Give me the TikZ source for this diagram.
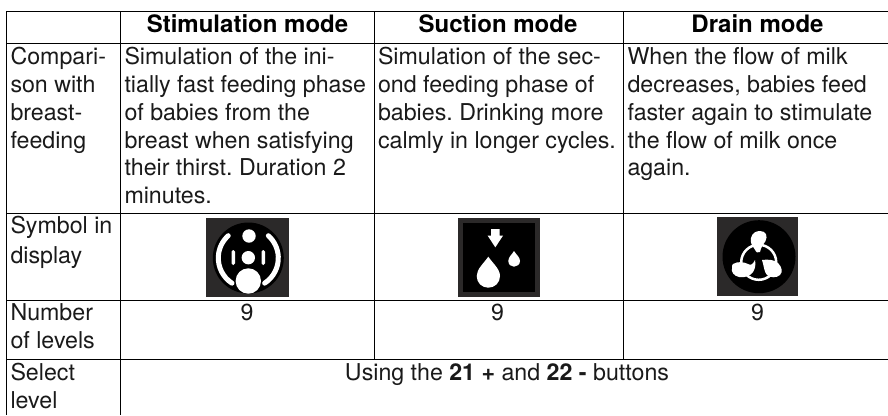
\documentclass[tikz,border=0pt]{standalone}
\usepackage{fontspec}
\setmainfont{TeX Gyre Heros}
\frenchspacing
\definecolor{txt}{HTML}{1A1A1A}
\definecolor{icobg}{HTML}{2B2929}
\tikzset{
  x=1pt,y=-1pt,
  rule/.style={line width=1pt,black},
  cell/.style={anchor=base west,inner sep=0pt,outer sep=0pt,align=left,text=txt,font=\fontsize{23.2}{28}\selectfont},
  cellc/.style={anchor=base,inner sep=0pt,outer sep=0pt,align=center,text=txt,font=\fontsize{23.2}{28}\selectfont},
  head/.style={anchor=base,inner sep=0pt,outer sep=0pt,text=black,font=\fontsize{24}{28}\selectfont\bfseries},
  arcw/.style={draw=white,line width=5pt,line cap=round},
}
\begin{document}
\begin{tikzpicture}
\useasboundingbox (0,0) rectangle (888,415);
\fill[white] (0,0) rectangle (888,415);
% table rules
\draw[rule] (6,11.5) -- (888,11.5);
\draw[rule] (6,43) -- (888,43);
\draw[rule] (6,213) -- (888,213);
\draw[rule] (6,300) -- (888,300);
\draw[rule] (6,359.5) -- (888,359.5);
\draw[rule] (6,11) -- (6,415);
\draw[rule] (120.5,11) -- (120.5,415);
\draw[rule] (374.5,11) -- (374.5,359.5);
\draw[rule] (623.5,11) -- (623.5,359.5);
% header
\node[head] (h1) at (247.5,32) {Stimulation mode};
\node[head] (h2) at (498,32) {Suction mode};
\node[head] (h3) at (757.5,32) {Drain mode};
% row 1
\node[cell] (r1a) at (10.5,64) {Compari-};
\node[cell] (r1a2) at (10.5,92) {son with};
\node[cell] (r1a3) at (10.5,120) {breast-};
\node[cell] (r1a4) at (10.5,148) {feeding};
\node[cell] (b1a) at (124.5,64) {Simulation of the ini-};
\node[cell] (b1b) at (124.5,92) {tially fast feeding phase};
\node[cell] (b1c) at (124.5,120) {of babies from the};
\node[cell] (b1d) at (124.5,148) {breast when satisfying};
\node[cell] (b1e) at (124.5,175.5) {their thirst. Duration 2};
\node[cell] (b1f) at (124.5,203.5) {minutes.};
\node[cell] (b2a) at (378,64) {Simulation of the sec-};
\node[cell] (b2b) at (378,92) {ond feeding phase of};
\node[cell] (b2c) at (378,120) {babies. Drinking more};
\node[cell] (b2d) at (378,148) {calmly in longer cycles.};
\node[cell] (b3a) at (627.5,64) {When the flow of milk};
\node[cell] (b3b) at (627.5,92) {decreases, babies feed};
\node[cell] (b3c) at (627.5,120) {faster again to stimulate};
\node[cell] (b3d) at (627.5,148) {the flow of milk once};
\node[cell] (b3e) at (627.5,175.5) {again.};
% row 2
\node[cell] (s1) at (10.5,233) {Symbol in};
\node[cell] (s2) at (10.5,263) {display};
% icon 1
\fill[icobg] (206,218) rectangle (289,297);
\fill[black] (248.3,258) circle[radius=35.5];
\draw[arcw] (248.3,258) ++(123:30) arc[start angle=123,end angle=228,radius=30];
\draw[arcw] (248.3,258) ++(57:30) arc[start angle=57,end angle=-48,radius=30];
\fill[white] (249,236) circle[radius=6.7];
\fill[white] (248.3,257.7) circle[radius=6.7];
\fill[white] (248.3,281) circle[radius=12.7];
\fill[white,rounded corners=1.7pt] (231.5,250) rectangle (235,265);
\fill[white,rounded corners=1.7pt] (261.5,250) rectangle (265,265);
% icon 2
\fill[icobg] (458,218) rectangle (540,297);
\fill[black] (463,222.7) rectangle (535,291.7);
\fill[white] (491,229) -- (499.7,229) -- (499.7,235.7) -- (503,235.7) -- (495.3,247.3) -- (487.7,235.7) -- (491,235.7) -- cycle;
\fill[white] (488.3,256.7) .. controls (484,263) and (476.7,269) .. (476.7,276) .. controls (476.7,283) and (482,287.7) .. (488.3,287.7) .. controls (494.6,287.7) and (500,283) .. (500,276) .. controls (500,269) and (492.6,263) .. (488.3,256.7) -- cycle;
\fill[white] (514,251) .. controls (512,254.5) and (508.3,257) .. (508.3,261) .. controls (508.3,264.5) and (511,266.7) .. (514,266.7) .. controls (517,266.7) and (520,264.5) .. (520,261) .. controls (520,257) and (516,254.5) .. (514,251) -- cycle;
% icon 3
\fill[icobg] (716.7,217.3) rectangle (798,295.7);
\fill[black] (759,256.7) circle[radius=36.5];
\draw[white,line width=2.5pt] (758.7,262.3) circle[radius=17.5];
\fill[white] (760,231) .. controls (766,231) and (768,236) .. (765.5,241) .. controls (763,245) and (761,247) .. (760,252) .. controls (758,254) and (756,252) .. (754.5,249) .. controls (752,245) and (750,243) .. (751,238) .. controls (752,233) and (756,231) .. (760,231) -- cycle;
\fill[white] (733,264) .. controls (738,261) and (744,262) .. (748,264) .. controls (751,266) and (753,264) .. (755,260) .. controls (756,265) and (755,269) .. (753,272) .. controls (750,276) and (745,278) .. (739,277) .. controls (734,276) and (731,272) .. (732,268) .. controls (732,266) and (732,265) .. (733,264) -- cycle;
\fill[white] (762,260) .. controls (768,259) and (775,260) .. (778,263) .. controls (782,267) and (783,272) .. (780,275) .. controls (777,278) and (770,278) .. (767,275) .. controls (764,272) and (764,266) .. (762,260) -- cycle;
% row 3
\node[cell] (n1) at (10.5,320) {Number};
\node[cell] (n2) at (10.5,348) {of levels};
\node[cellc] (c1) at (247,320) {9};
\node[cellc] (c2) at (497.5,320) {9};
\node[cellc] (c3) at (757.5,320) {9};
% row 4
\node[cell] (l1) at (10.5,380) {Select};
\node[cell] (l2) at (10.5,408) {level};
\node[cellc] (u) at (507,380) {Using the \textbf{21 +} and \textbf{22 -} buttons};
\end{tikzpicture}
\end{document}
